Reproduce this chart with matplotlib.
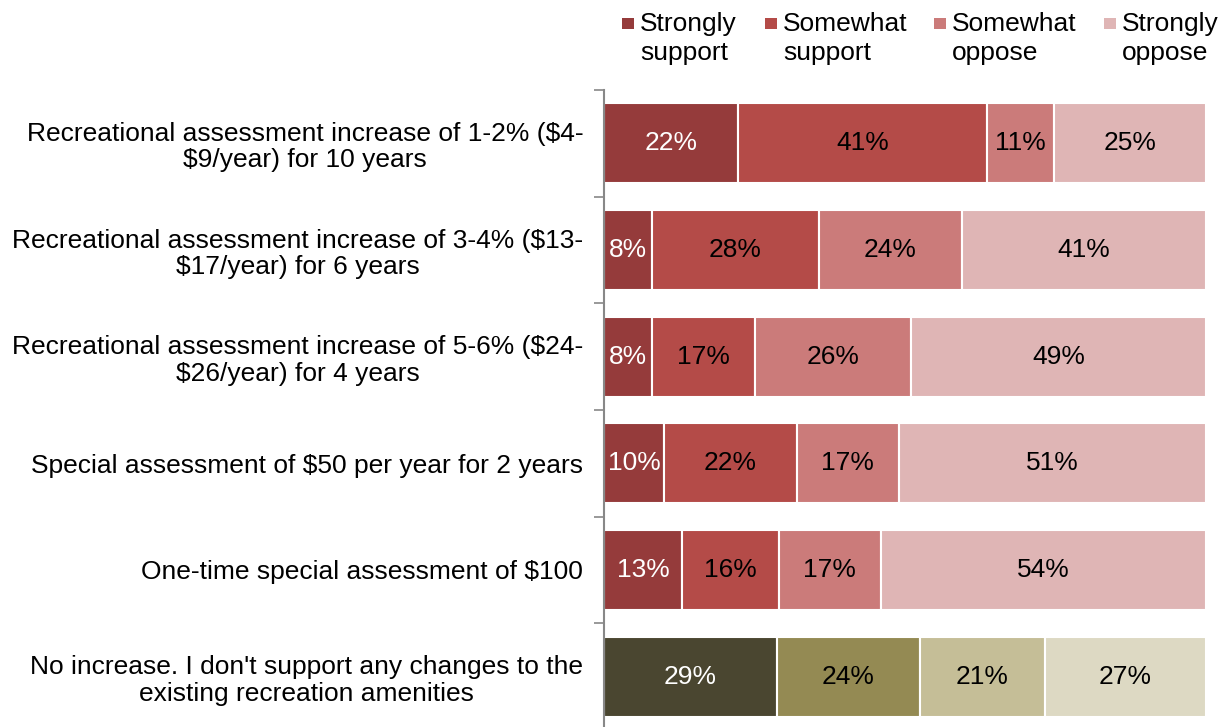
import numpy as np
import matplotlib.pyplot as plt
from matplotlib.patches import Rectangle

plt.rcParams["font.family"] = ["Liberation Sans", "DejaVu Sans"]

# ----------------------------------------------------------
# Data
# ----------------------------------------------------------

CATEGORIES = [
    "Recreational assessment increase of 1-2% ($4-\n$9/year) for 10 years",
    "Recreational assessment increase of 3-4% ($13-\n$17/year) for 6 years",
    "Recreational assessment increase of 5-6% ($24-\n$26/year) for 4 years",
    "Special assessment of $50 per year for 2 years",
    "One-time special assessment of $100",
    "No increase. I don't support any changes to the\nexisting recreation amenities",
]

SERIES = ["Strongly\nsupport", "Somewhat\nsupport", "Somewhat\noppose", "Strongly\noppose"]

STRONGLY_SUPPORT = [22, 8, 8, 10, 13, 29]
SOMEWHAT_SUPPORT = [41, 28, 17, 22, 16, 24]
SOMEWHAT_OPPOSE = [11, 24, 26, 17, 17, 21]
STRONGLY_OPPOSE = [25, 41, 49, 51, 54, 27]

RED_COLORS = ["#953b3b", "#b44b48", "#cb7b7a", "#dfb5b5"]
OLIVE_COLORS = ["#4a4630", "#948a53", "#c5be97", "#ddd9c3"]

FONT_SIZE = 19

# ----------------------------------------------------------
# Plot
# ----------------------------------------------------------

values = np.array([STRONGLY_SUPPORT, SOMEWHAT_SUPPORT,
                   SOMEWHAT_OPPOSE, STRONGLY_OPPOSE], dtype=float)
shares = values / values.sum(axis=0) * 100

fig = plt.figure(figsize=(12.29, 7.27), dpi=100)
ax = fig.add_axes([0.4915, -0.004, 0.4898, 0.880])

y = np.arange(len(CATEGORIES))
left = np.zeros(len(CATEGORIES))

for s in range(len(SERIES)):
    colors = [RED_COLORS[s]] * (len(CATEGORIES) - 1) + [OLIVE_COLORS[s]]
    ax.barh(y, shares[s], left=left, height=0.75, color=colors,
            edgecolor="white", linewidth=1.5)
    for i in range(len(CATEGORIES)):
        text_color = "white" if s == 0 else "black"
        ax.text(left[i] + shares[s, i] / 2, y[i], f"{int(values[s, i])}%",
                ha="center", va="center", fontsize=FONT_SIZE, color=text_color)
    left += shares[s]

ax.set_xlim(0, 100)
ax.set_ylim(len(CATEGORIES) - 0.5, -0.5)

ax.set_xticks([])
ax.set_yticks(y)
ax.set_yticklabels(CATEGORIES, fontsize=FONT_SIZE, multialignment="center",
                   linespacing=1.13)
ax.set_yticks(np.arange(-0.5, len(CATEGORIES)), minor=True)
ax.tick_params(axis="y", which="major", length=0, pad=15)
ax.tick_params(axis="y", which="minor", length=7, color="#888888", width=1.2)

for side in ["top", "right", "bottom"]:
    ax.spines[side].set_visible(False)
ax.spines["left"].set_color("#888888")
ax.spines["left"].set_linewidth(1.5)

# legend drawn by hand so the square sits on the first text line
legend_x = [622, 765, 934, 1104]
W, H = 1229, 727
for s, label in enumerate(SERIES):
    x0 = legend_x[s]
    fig.add_artist(Rectangle((x0 / W, 1 - 29 / H), 12 / W, 11 / H,
                             transform=fig.transFigure,
                             facecolor=RED_COLORS[s], edgecolor="none"))
    fig.text((x0 + 18) / W, 1 - 12 / H, label, ha="left", va="top",
             fontsize=FONT_SIZE, linespacing=1.26)

fig.savefig("out.png", dpi=100)
